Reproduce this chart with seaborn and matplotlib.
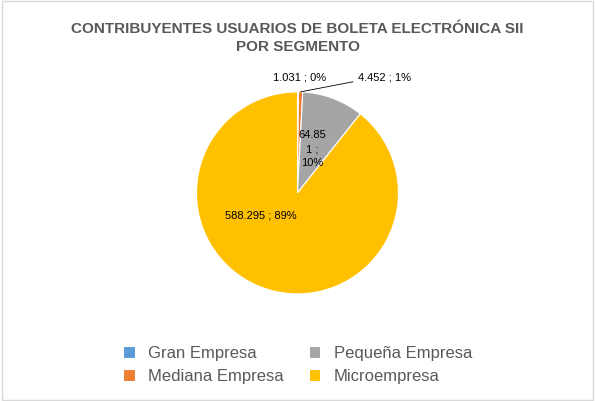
import matplotlib
matplotlib.use("Agg")
import matplotlib.pyplot as plt
import seaborn as sns
import numpy as np

sns.set_theme(style="white")
plt.rcParams['font.family'] = ['Liberation Sans', 'DejaVu Sans']

categories = ["Gran Empresa", "Mediana Empresa", "Pequeña Empresa", "Microempresa"]
values = [1031, 4452, 64851, 588295]
value_labels = ["1.031 ; 0%", "4.452 ; 1%", "64.85\n1 ;\n10%", "588.295 ; 89%"]
colors = ["#5B9BD5", "#ED7D31", "#A5A5A5", "#FFC000"]

fig = plt.figure(figsize=(5.95, 4.01), dpi=100)
fig.patches.append(plt.Rectangle((0.003, 0.003), 0.994, 0.994, transform=fig.transFigure,
                                 fill=False, edgecolor="#D9D9D9", linewidth=1))
ax = fig.add_axes([0.5 - 0.1698, 0.519 - 0.252, 0.3395, 0.504])
wedges, _ = ax.pie(values, colors=colors, startangle=90, counterclock=False,
                   wedgeprops=dict(edgecolor="white", linewidth=0.8))
ax.set_xlim(-1, 1); ax.set_ylim(-1, 1); ax.set_aspect("equal")

label_pos = [(0.02, 1.14), (0.86, 1.14), (0.15, 0.43), (-0.36, -0.22)]
for lab, (x, y) in zip(value_labels, label_pos):
    ax.text(x, y, lab, ha="center", va="center", fontsize=8, color="#000000",
            linespacing=1.5)
ax.plot([0.03, 0.55], [1.0, 1.1], color="#000000", lw=0.6, clip_on=False)

fig.text(0.5, 0.945, "CONTRIBUYENTES USUARIOS DE BOLETA ELECTRÓNICA SII\nPOR SEGMENTO",
         ha="center", va="top", fontsize=11, fontweight="bold", color="#595959",
         linespacing=1.4)

fig.legend(wedges, categories, loc="lower center", bbox_to_anchor=(0.5, 0.005), ncol=2,
           frameon=False, fontsize=12, handlelength=0.7, handleheight=0.7,
           columnspacing=1.5, labelcolor="#595959")

fig.savefig("out.png", dpi=100)
